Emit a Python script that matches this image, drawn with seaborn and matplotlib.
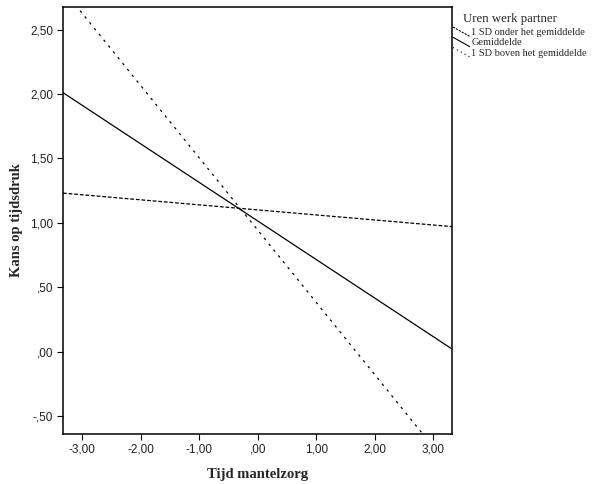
import matplotlib
matplotlib.use("Agg")
import matplotlib.pyplot as plt
import numpy as np
import pandas as pd
import seaborn as sns
from matplotlib.legend_handler import HandlerBase
from matplotlib.lines import Line2D
from matplotlib.ticker import FuncFormatter, MultipleLocator

# estimated end points of the simple slopes (x at the plot edges)
x_ends = [-3.33, 3.32]
y_onder = [1.23, 0.97]
y_gemiddeld = [2.01, 0.02]
y_boven = [2.81, -0.92]
groups = ['1 SD onder het gemiddelde', 'Gemiddelde', '1 SD boven het gemiddelde']

df = pd.DataFrame({
    'Tijd mantelzorg': x_ends * 3,
    'Kans op tijdsdruk': y_onder + y_gemiddeld + y_boven,
    'Uren werk partner': [g for g in groups for _ in x_ends],
})


def spss_fmt(v, pos):
    s = f'{v:.2f}'.replace('.', ',')
    if s == '-0,00':
        s = '0,00'
    if s.startswith('-0,'):
        return '-' + s[2:]
    if s.startswith('0,'):
        return s[1:]
    return s


class SlantHandler(HandlerBase):
    # SPSS draws the legend keys as short diagonal strokes
    def create_artists(self, legend, orig_handle, xdescent, ydescent, width, height, fontsize, trans):
        line = Line2D([0, width], [height + 1, -1])
        line.update_from(orig_handle)
        line.set_transform(trans)
        return [line]


sns.set_style('white')
plt.rcParams['font.family'] = ['Liberation Sans', 'DejaVu Sans']

fig = plt.figure(figsize=(5.93, 4.84), dpi=100)
ax = fig.add_axes([63 / 593, 50 / 484, 389 / 593, 427 / 484])

styles = {groups[0]: (3, 1.5), groups[1]: '', groups[2]: (2, 4)}
sns.lineplot(data=df, x='Tijd mantelzorg', y='Kans op tijdsdruk', hue='Uren werk partner',
             style='Uren werk partner', palette=['black'] * 3, dashes=styles,
             linewidth=0.9, legend=False, ax=ax)

ax.set_xlim(-3.33, 3.32)
ax.set_ylim(-0.64, 2.675)
ax.xaxis.set_major_locator(MultipleLocator(1))
ax.yaxis.set_major_locator(MultipleLocator(0.5))
ax.xaxis.set_major_formatter(FuncFormatter(spss_fmt))
ax.yaxis.set_major_formatter(FuncFormatter(spss_fmt))
ax.tick_params(axis='both', direction='out', length=4, width=0.8, color='black',
               labelsize=8.5, labelcolor='#222222', left=True, bottom=True, pad=3)
for sp in ax.spines.values():
    sp.set_color('black')
    sp.set_linewidth(1.1)

ax.set_xlabel('Tijd mantelzorg', family='Liberation Serif', fontweight='bold', fontsize=10.5, labelpad=9)
ax.set_ylabel('Kans op tijdsdruk', family='Liberation Serif', fontweight='bold', fontsize=10.5, labelpad=5)

handles = [Line2D([], [], color='black', lw=0.8, dashes=(2, 1)),
           Line2D([], [], color='black', lw=0.8),
           Line2D([], [], color='black', lw=0.8, dashes=(1, 3))]
fig.text(463 / 593, 1 - 19 / 484, 'Uren werk partner', family='Liberation Serif',
         fontsize=9.2, va='center', ha='left')
leg = fig.legend(handles, groups, loc='upper left',
                 bbox_to_anchor=(453 / 593, 1 - 28 / 484), frameon=False,
                 handler_map={Line2D: SlantHandler()}, handlelength=1.6, handleheight=0.6,
                 handletextpad=0.15, labelspacing=0.12, borderaxespad=0, borderpad=0,
                 prop={'family': 'Liberation Serif', 'size': 7.5})

fig.savefig('out.png', dpi=100)
